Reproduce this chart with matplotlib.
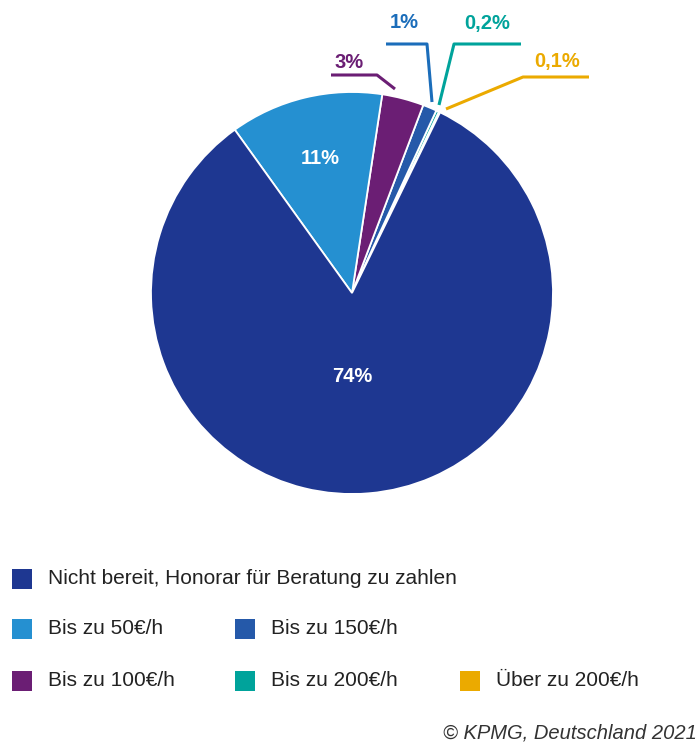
import numpy as np
from matplotlib import pyplot as plt
from matplotlib.patches import Rectangle

# data, counterclockwise from the top right
labels = ['Über zu 200€/h', 'Bis zu 200€/h', 'Bis zu 150€/h', 'Bis zu 100€/h',
          'Bis zu 50€/h', 'Nicht bereit, Honorar für Beratung zu zahlen']
values = [0.1, 0.2, 1, 3, 11, 74]
value_text = ['0,1%', '0,2%', '1%', '3%', '11%', '74%']
colors = ['#EBAA00', '#00A39B', '#2559A9', '#6B1E74', '#2590D1', '#1E3791']
text_colors = ['#EBAA00', '#00A39B', '#1B6DBA', '#6B1E74', 'white', 'white']

W, H = 700, 744
plt.rcParams['font.family'] = ['Liberation Sans', 'DejaVu Sans']
fig = plt.figure(figsize=(W / 100, H / 100), dpi=100)
ax = fig.add_axes([0, 0, 1, 1])

def Y(y):
    # picture rows -> axes y
    return H - y

cx, cy, R = 352, Y(293), 201
wedges, _ = ax.pie(values, colors=colors, startangle=64, counterclock=True,
                   center=(cx, cy), radius=R, frame=True,
                   wedgeprops=dict(edgecolor='white', linewidth=1.3))
ax.set_xlim(0, W)
ax.set_ylim(0, H)
ax.set_aspect('equal')
ax.axis('off')

# labels inside the two big slices
ax.text(320, Y(158), value_text[4], color='white', fontsize=14.5,
        fontweight='bold', ha='center', va='center')
ax.text(352, Y(377), value_text[5], color='white', fontsize=14.5,
        fontweight='bold', ha='center', va='center')

# leader lines for the small slices: start, knee, end of horizontal, text position
leaders = {
    3: [(395, 89), (377, 75), (331, 75), (349, 62)],
    2: [(432, 102), (427, 44), (386, 44), (404, 23)],
    1: [(439, 105), (454, 44), (521, 44), (487, 23)],
    0: [(446, 109), (523, 77), (589, 77), (557, 62)],
}
for i, (start, knee, end, tpos) in leaders.items():
    xs = [start[0], knee[0], end[0]]
    ys = [Y(start[1]), Y(knee[1]), Y(end[1])]
    ax.plot(xs, ys, color=text_colors[i], linewidth=2.2, solid_capstyle='butt')
    ax.text(tpos[0], Y(tpos[1]), value_text[i], color=text_colors[i],
            fontsize=14.5, fontweight='bold', ha='center', va='center')

# legend
legend_pos = {5: (12, 579), 4: (12, 629), 2: (235, 629), 3: (12, 681),
              1: (235, 681), 0: (460, 681)}
for i, (x, y) in legend_pos.items():
    ax.add_patch(Rectangle((x, Y(y) - 10), 20, 20, facecolor=colors[i],
                           edgecolor='none'))
    ax.text(x + 36, Y(y), labels[i], fontsize=15, color='#222222',
            ha='left', va='center')

ax.text(697, Y(733), '© KPMG, Deutschland 2021', fontsize=14.5, style='italic',
        color='#333333', ha='right', va='center')

fig.savefig('out.png', dpi=100)
